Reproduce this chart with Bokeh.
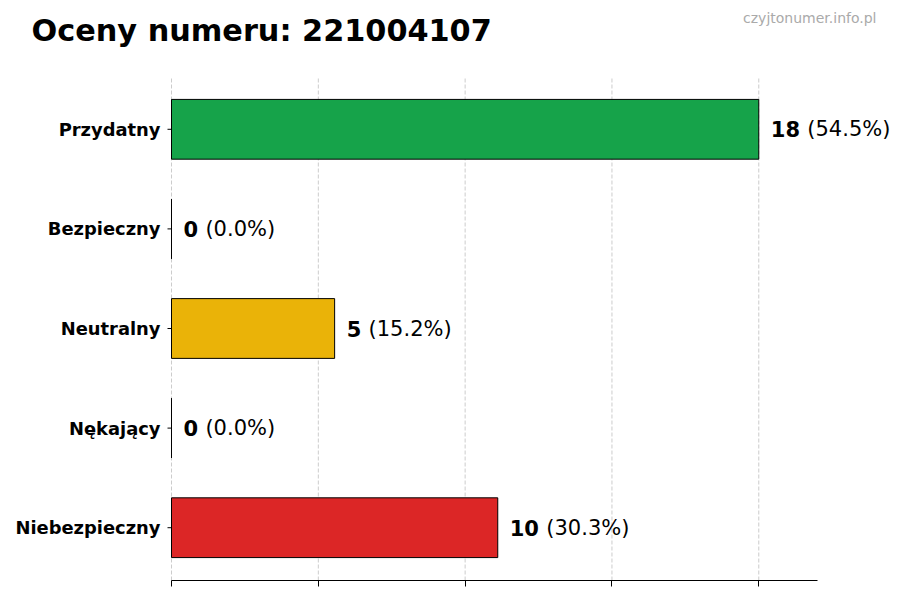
from bokeh.plotting import figure
from bokeh.models import Range1d, FixedTicker, Label, ColumnDataSource
from bokeh.core.properties import value
from bokeh.embed import file_html
from bokeh.resources import INLINE
import math

title_text = "Oceny numeru: 221004107"
watermark = "czyjtonumer.info.pl"
categories = ["Przydatny", "Bezpieczny", "Neutralny", "Nękający", "Niebezpieczny"]
counts = [18, 0, 5, 0, 10]
colors = ["#16a34a", "#22c55e", "#eab308", "#f97316", "#dc2626"]
x_ticks = [0, 4.5, 9, 13.5, 18]

total = sum(counts)
pcts = [" (%.1f%%)" % (c / total * 100.0) for c in counts]
nums = [str(c) for c in counts]
ypos = list(range(len(categories) - 1, -1, -1))  # first category at top

# ---- layout (pixels) ----
W, H = 900, 592
PLOT_L, PLOT_R, PLOT_T, PLOT_B = 171, 817, 76, 580   # axes box, like the reference
BAR_H = 0.6
x_max = max(counts) * 1.1
y_lo = -BAR_H / 2 - 0.05 * (len(categories) - 1 + BAR_H)
y_hi = len(categories) - 1 + BAR_H / 2 + 0.05 * (len(categories) - 1 + BAR_H)
ppx = (PLOT_R - PLOT_L) / x_max
ppy = (PLOT_B - PLOT_T) / (y_hi - y_lo)

FONT = "DejaVu Sans"
VAL_SIZE = 21
num_offsets = [12 for _ in nums]
pct_offsets = [12 + len(n) * 0.696 * VAL_SIZE + 0.348 * VAL_SIZE for n in nums]

src = ColumnDataSource(dict(cat=categories, y=ypos, cnt=counts, col=colors, num=nums, pct=pcts,
                            noff=num_offsets, poff=pct_offsets,
                            zero=[0] * len(counts)))
grid_src = ColumnDataSource(dict(x=x_ticks, y0=[y_lo] * len(x_ticks), y1=[y_hi] * len(x_ticks)))

p = figure(width=W, height=H, output_backend="svg", toolbar_location=None,
           x_range=Range1d(-PLOT_L / ppx, (W - PLOT_L) / ppx),
           y_range=Range1d(y_lo - (H - 12 - PLOT_B) / ppy, y_hi + PLOT_T / ppy),
           min_border_left=0, min_border_right=0, min_border_top=0, min_border_bottom=12)
p.outline_line_color = None
p.background_fill_color = "white"
p.xgrid.visible = False
p.ygrid.visible = False
p.yaxis.visible = False

# dashed vertical grid lines inside the axes box
p.segment(x0="x", y0="y0", x1="x", y1="y1", source=grid_src, line_color="#cccccc",
          line_width=1, line_dash="4 2")

p.hbar(y="y", left=0, right="cnt", height=BAR_H, fill_color="col", line_color="black",
       line_width=1, source=src)

# value labels
p.text(x="cnt", y="y", text="num", x_offset="noff", text_baseline="middle", text_align="left",
       text_font=value(FONT), text_font_style="bold", text_font_size="%dpx" % VAL_SIZE,
       text_color="black", source=src)
p.text(x="cnt", y="y", text="pct", x_offset="poff", text_baseline="middle", text_align="left",
       text_font=value(FONT), text_font_size="%dpx" % VAL_SIZE, text_color="black", source=src)

# category labels and ticks (y axis)
p.ray(x="zero", y="y", length=4, angle=math.pi, length_units="screen", line_color="black",
      line_width=1, source=src)
p.text(x="zero", y="y", text="cat", x_offset=-11, text_baseline="middle", text_align="right",
       text_font=value(FONT), text_font_style="bold", text_font_size="17.9px",
       text_color="black", source=src)

# x axis: line + ticks only
p.xaxis.bounds = (0, x_max)
p.xaxis.ticker = FixedTicker(ticks=x_ticks)
p.xaxis.major_label_overrides = {t: "" for t in x_ticks}
p.xaxis.major_label_text_font_size = "1px"
p.xaxis.major_label_standoff = 0
p.xaxis.major_tick_out = 6
p.xaxis.major_tick_in = 0
p.xaxis.minor_tick_line_color = None
p.xaxis.axis_line_color = "black"
p.xaxis.major_tick_line_color = "black"

p.add_layout(Label(x=31, y=30, x_units="canvas", y_units="canvas", text=title_text,
                   text_font=FONT, text_font_style="bold", text_font_size="30.3px",
                   text_color="black", text_baseline="alphabetic", text_align="left"))
p.add_layout(Label(x=876, y=17, x_units="canvas", y_units="canvas", text=watermark,
                   text_font=FONT, text_font_size="14px", text_color="#aaaaaa",
                   text_baseline="middle", text_align="right"))

open("out.html", "w").write(file_html(p, INLINE))
